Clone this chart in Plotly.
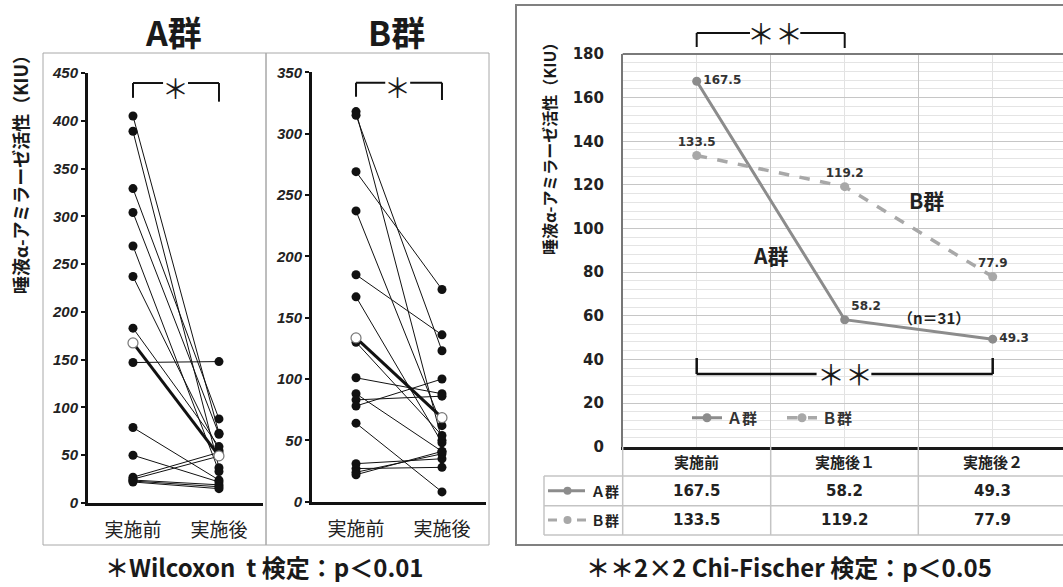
import plotly.graph_objects as go

W, H = 1063, 587

# ---------------- data ----------------
cats_lr = ["実施前", "実施後"]
a_before = [405, 389, 329, 304, 269, 237, 183, 147, 79, 50, 27, 25, 24, 23, 22]
a_after = [73, 37, 88, 72, 33, 55, 59, 148, 24, 22, 53, 49, 19, 17, 15]
a_mean = [167.5, 49.3]
b_before = [318, 315, 269, 237, 185, 167, 130, 101, 88, 83, 78, 64, 31, 27, 24, 22]
b_after = [50, 123, 173, 62, 136, 48, 54, 88, 41, 86, 100, 8, 35, 28, 39, 41]
b_mean = [133.5, 68.5]
a_ticks = [0, 50, 100, 150, 200, 250, 300, 350, 400, 450]
b_ticks = [0, 50, 100, 150, 200, 250, 300, 350]

periods = ["実施前", "実施後１", "実施後２"]
grp_A = [167.5, 58.2, 49.3]
grp_B = [133.5, 119.2, 77.9]
right_ticks = [0, 20, 40, 60, 80, 100, 120, 140, 160, 180]
legend_names = ["Ａ群", "Ｂ群"]

FONT_JP = "Noto Sans CJK JP"
FONT_NUM = "DejaVu Sans"
COL_A = "#8c8c8c"
COL_B = "#a8a8a8"


def px(x):
    return x / W


def py(y):
    return 1 - y / H


def pairs(before, after):
    xs, ys = [], []
    for b, a in zip(before, after):
        xs += [0, 1, None]
        ys += [b, a, None]
    return xs, ys


fig = go.Figure()

# ---------------- left panels ----------------
for (bef, aft, mean, xa, ya) in [(a_before, a_after, a_mean, "x", "y"),
                                  (b_before, b_after, b_mean, "x2", "y2")]:
    xs, ys = pairs(bef, aft)
    fig.add_trace(go.Scatter(x=xs, y=ys, mode="lines+markers",
                             line=dict(color="#111", width=1),
                             marker=dict(color="#111", size=9),
                             xaxis=xa, yaxis=ya, showlegend=False,
                             cliponaxis=False, hoverinfo="skip"))
    fig.add_trace(go.Scatter(x=[0, 1], y=mean, mode="lines+markers",
                             line=dict(color="#111", width=3),
                             marker=dict(color="white", size=10,
                                         line=dict(color="#777", width=1.2)),
                             xaxis=xa, yaxis=ya, showlegend=False,
                             cliponaxis=False, hoverinfo="skip"))

# ---------------- right chart ----------------
fig.add_trace(go.Scatter(x=[0, 1, 2], y=grp_A, mode="lines+markers+text",
                         name=legend_names[0],
                         line=dict(color=COL_A, width=3),
                         marker=dict(color=COL_A, size=9),
                         text=[f"{v:.1f}" for v in grp_A],
                         textposition=["middle right", "top right", "middle right"],
                         textfont=dict(family=FONT_NUM, size=12, color="#333", weight="bold"),
                         xaxis="x3", yaxis="y3", cliponaxis=False, hoverinfo="skip"))
fig.add_trace(go.Scatter(x=[0, 1, 2], y=grp_B, mode="lines+markers+text",
                         name=legend_names[1],
                         line=dict(color=COL_B, width=3.5, dash="dash"),
                         marker=dict(color=COL_B, size=9),
                         text=[f"{v:.1f}" for v in grp_B],
                         textposition=["top center", "top center", "top center"],
                         textfont=dict(family=FONT_NUM, size=12, color="#333", weight="bold"),
                         xaxis="x3", yaxis="y3", cliponaxis=False, hoverinfo="skip"))

tickfont_lr = dict(family="Liberation Sans", size=15, color="#222", weight="bold", style="italic")
catfont = dict(family=FONT_JP, size=19, color="#222")

def lr_xaxis(dom, rng, anchor):
    return dict(domain=dom, range=rng, tickmode="array", tickvals=[0, 1], ticktext=cats_lr,
                showline=True, linecolor="#111", linewidth=3, ticks="outside", ticklen=8,
                tickcolor="rgba(0,0,0,0)", tickfont=catfont, showgrid=False, zeroline=False,
                anchor=anchor, fixedrange=True)

def lr_yaxis(dom, rng, tv, anchor):
    return dict(domain=dom, range=rng, tickmode="array", tickvals=tv, showline=True,
                linecolor="#111", linewidth=3, ticks="outside", ticklen=4, tickwidth=2,
                tickcolor="#111", tickfont=tickfont_lr, showgrid=False, zeroline=False,
                anchor=anchor, fixedrange=True)

layout = dict(
    width=W, height=H, margin=dict(l=0, r=0, t=0, b=0, autoexpand=False),
    paper_bgcolor="white", plot_bgcolor="white",
    xaxis=lr_xaxis([px(88), px(263)], [-0.523, 1.512], "y"),
    yaxis=lr_yaxis([py(503), py(73)], [0, 450], a_ticks, "x"),
    xaxis2=lr_xaxis([px(312), px(486)], [-0.512, 1.512], "y2"),
    yaxis2=lr_yaxis([py(501.7), py(72.3)], [0, 350], b_ticks, "x2"),
    xaxis3=dict(domain=[px(622.7), 1], range=[-0.5, 2.475], tickmode="array",
                tickvals=[-0.5, 0.5, 1.5, 2.5], showticklabels=False, ticks="",
                showgrid=True, gridcolor="#c6c6c6", gridwidth=1,
                minor=dict(tickmode="array", tickvals=[0, 1, 2], showgrid=True,
                           gridcolor="#e2e2e2", gridwidth=1),
                showline=True, linecolor="#1a1a1a", linewidth=2.5, zeroline=False,
                anchor="y3", fixedrange=True),
    yaxis3=dict(domain=[py(446.7), py(54)], range=[0, 180], tickmode="array",
                tickvals=right_ticks, showgrid=True, gridcolor="#c6c6c6", gridwidth=1,
                minor=dict(tick0=0, dtick=4, showgrid=True, gridcolor="#e4e4e4", gridwidth=1),
                ticks="outside", ticklen=14, tickcolor="rgba(0,0,0,0)",
                tickfont=dict(family=FONT_NUM, size=15, color="#222", weight="bold"),
                showline=True, linecolor="#777", linewidth=1.5, zeroline=False,
                anchor="x3", fixedrange=True),
    legend=dict(orientation="h", x=px(687), y=py(418), xanchor="left", yanchor="middle",
                font=dict(family=FONT_JP, size=15, color="#333", weight="bold"),
                bgcolor="rgba(0,0,0,0)", itemwidth=30, tracegroupgap=0,
                entrywidth=50, entrywidthmode="pixels"),
    showlegend=True,
)

shapes = []
ann = []

def pline(x0, y0, x1, y1, color="#111", width=2):
    return dict(type="line", xref="paper", yref="paper", x0=px(x0), y0=py(y0),
                x1=px(x1), y1=py(y1), line=dict(color=color, width=width))

# frames
shapes.append(dict(type="rect", xref="paper", yref="paper", x0=px(43), x1=px(266),
                   y0=py(545), y1=py(53), line=dict(color="#a8a8a8", width=1)))
shapes.append(dict(type="rect", xref="paper", yref="paper", x0=px(266), x1=px(489),
                   y0=py(545), y1=py(53), line=dict(color="#a8a8a8", width=1)))
shapes.append(dict(type="rect", xref="paper", yref="paper", x0=px(516), x1=px(1075),
                   y0=py(545), y1=py(5), line=dict(color="#808080", width=2)))
# top border of right plot
shapes.append(pline(622.7, 54, 1063, 54, color="#7a7a7a", width=2))

# table lines
for yy in [476, 505.7, 535]:
    shapes.append(pline(544, yy, 1063, yy, color="#c4c4c4", width=1.5))
for xx in [622.7, 770.7, 918.3]:
    shapes.append(pline(xx, 446.7, xx, 535, color="#c4c4c4", width=1.5))
shapes.append(pline(544, 476, 544, 535, color="#c4c4c4", width=1.5))

# row label symbols
shapes.append(pline(548, 490.7, 585, 490.7, color=COL_A, width=3))
shapes.append(dict(type="circle", xref="paper", yref="paper", x0=px(563.5), x1=px(571.5),
                   y0=py(494.7), y1=py(486.7), fillcolor=COL_A, line=dict(width=0)))
shapes.append(pline(548, 520, 557, 520, color=COL_B, width=3))
shapes.append(pline(577, 520, 586, 520, color=COL_B, width=3))
shapes.append(dict(type="circle", xref="paper", yref="paper", x0=px(563.5), x1=px(571.5),
                   y0=py(524), y1=py(516), fillcolor=COL_B, line=dict(width=0)))

def bracket(xref, yref, xl, xr, ytop, yl, yr, g0, g1, w=2):
    out = []
    for (x0, y0, x1, y1) in [(xl, yl, xl, ytop), (xl, ytop, g0, ytop),
                             (g1, ytop, xr, ytop), (xr, ytop, xr, yr)]:
        out.append(dict(type="line", xref=xref, yref=yref, x0=x0, y0=y0, x1=x1, y1=y1,
                        line=dict(color="#111", width=w)))
    return out

# left brackets (data coords)
shapes += bracket("x", "y", 0, 1, 439.5, 424, 420, 0.35, 0.64)
shapes += bracket("x2", "y2", 0, 1, 341.5, 330, 327.4, 0.34, 0.63)
# right top bracket (x3 / paper)
shapes += bracket("x3", "paper", 0, 1, py(33), py(47), py(48), 0.36, 0.70, w=2)
# right bottom bracket
shapes += bracket("x3", "y3", 0, 2, 33.3, 40.7, 40.7, 0.81, 1.18, w=2.5)

def A(x, y, text, size, xref="paper", yref="paper", color="#1a1a1a", family=FONT_JP,
      weight="normal", angle=0, xanchor="center", yanchor="middle"):
    return dict(x=x, y=y, xref=xref, yref=yref, text=text, showarrow=False,
                font=dict(family=family, size=size, color=color, weight=weight),
                textangle=angle, xanchor=xanchor, yanchor=yanchor)

# asterisks
ann.append(A(0.5, 435, "＊", 27, xref="x", yref="y"))
ann.append(A(0.485, 338.5, "＊", 27, xref="x2", yref="y2"))
ann.append(A(0.53, py(33), "＊＊", 28, xref="x3"))
ann.append(A(1.0, 33.3, "＊＊", 28, xref="x3", yref="y3"))

# titles
ann.append(A(px(173), py(31), "A群", 34, weight="bold"))
ann.append(A(px(396), py(31), "B群", 34, weight="bold"))
# y titles
ann.append(A(px(20), py(170), "唾液α-アミラーゼ活性（KIU）", 18, weight="bold", angle=-90))
ann.append(A(px(549), py(145), "唾液α-アミラーゼ活性（KIU）", 16, weight="bold", angle=-90))

# right chart labels
ann.append(A(0.5, 88, "A群", 21, xref="x3", yref="y3", color="#222", weight="bold"))
ann.append(A(1.55, 113, "B群", 21, xref="x3", yref="y3", color="#222", weight="bold"))
ann.append(A(1.6, 59, "（n＝31）", 15, xref="x3", yref="y3", color="#222", weight="bold"))

# table header + values
for i, p in enumerate(periods):
    ann.append(A(i, py(462), p, 15, xref="x3", color="#222", weight="bold"))
    ann.append(A(i, py(490.7), f"{grp_A[i]:.1f}", 15, xref="x3", color="#222",
                 family=FONT_NUM, weight="bold"))
    ann.append(A(i, py(520), f"{grp_B[i]:.1f}", 15, xref="x3", color="#222",
                 family=FONT_NUM, weight="bold"))
ann.append(A(px(605), py(490.7), legend_names[0], 14, color="#222", weight="bold"))
ann.append(A(px(605), py(520), legend_names[1], 14, color="#222", weight="bold"))

# footnotes
ann.append(A(px(264), py(566), "＊Wilcoxon\u00a0 t 検定：p＜0.01", 24, color="#1a1a1a", weight="bold"))
ann.append(A(px(789), py(566), "＊＊2×2 Chi-Fischer 検定：p＜0.05", 24, color="#1a1a1a", weight="bold"))

layout["shapes"] = shapes
layout["annotations"] = ann
fig.update_layout(**layout)
fig.write_html("out.html", config={"displayModeBar": False},
               post_script="document.body.style.margin='0px';")
